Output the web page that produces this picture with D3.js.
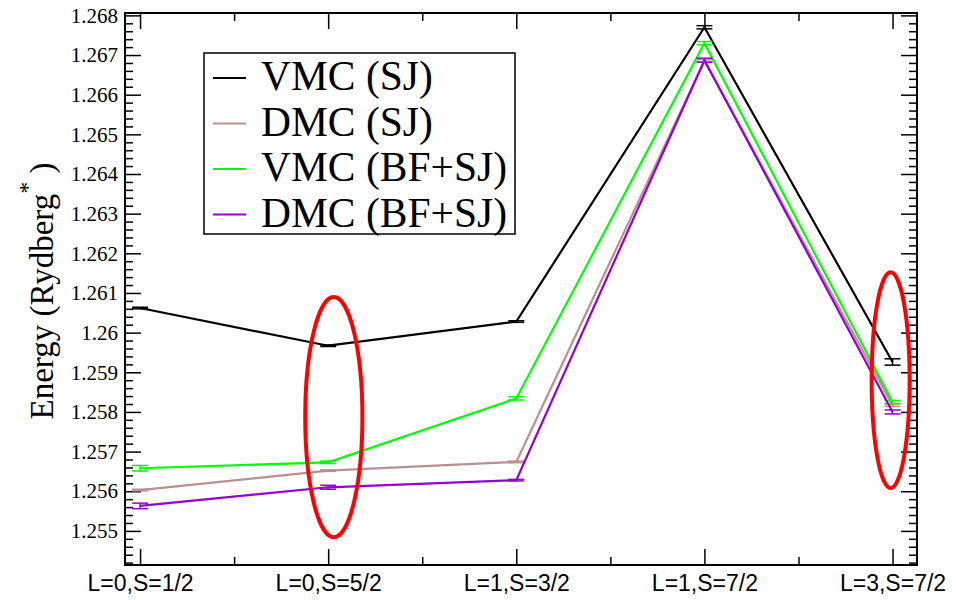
<!DOCTYPE html>
<html>
<head>
<meta charset="utf-8">
<script src="https://cdn.jsdelivr.net/npm/d3@7"></script>
<style>
  body { margin: 0; background: #fff; }
  svg { display: block; }
</style>
</head>
<body>
<svg width="956" height="600"></svg>
<script>
// data
const categories = ['L=0,S=1/2', 'L=0,S=5/2', 'L=1,S=3/2', 'L=1,S=7/2', 'L=3,S=7/2']
const vmcSJ = [1.26062, 1.25967, 1.26028, 1.26770, 1.25926]
const vmcSJErr = [0.00002, 0.00002, 0.00002, 0.00004, 0.00008]
const dmcSJ = [1.25603, 1.25652, 1.25674, 1.26685, 1.25817]
const dmcSJErr = [0.00002, 0.00002, 0.00002, 0.00003, 0.00003]
const vmcBF = [1.25658, 1.25673, 1.25834, 1.26730, 1.25825]
const vmcBFErr = [0.00007, 0.00003, 0.00004, 0.00004, 0.00004]
const dmcBF = [1.25563, 1.25610, 1.25628, 1.26687, 1.25800]
const dmcBFErr = [0.00007, 0.00005, 0.00002, 0.00005, 0.00005]
const yTicks = [1.255, 1.256, 1.257, 1.258, 1.259, 1.26, 1.261, 1.262, 1.263, 1.264, 1.265, 1.266, 1.267, 1.268]
const seriesNames = ['VMC (SJ)', 'DMC (SJ)', 'VMC (BF+SJ)', 'DMC (BF+SJ)']
const seriesColors = ['#000000', 'rgb(188,143,143)', 'rgb(0,255,0)', 'rgb(148,0,211)']
// circled points: category position, energy, half sizes
const marks = [
    { x: 1.03, y: 1.25787, rx: 0.152, ry: 0.00303 },
    { x: 3.99, y: 1.25880, rx: 0.101, ry: 0.00272 }
]

const series = [
    { values: vmcSJ, err: vmcSJErr },
    { values: dmcSJ, err: dmcSJErr },
    { values: vmcBF, err: vmcBFErr },
    { values: dmcBF, err: dmcBFErr }
]

//constants
const padL = 125, padR = 917, padT = 13, padB = 565
const serif = '"Liberation Serif", "Times New Roman", serif'
const sans = '"Liberation Sans", Arial, sans-serif'
const svg = d3.select('svg')

svg.append('rect').attr('width', 956).attr('height', 600).attr('fill', '#fff')

//scales
const x = d3.scaleLinear().domain([-0.08, 4.13]).range([padL, padR])
const y = d3.scaleLinear().domain([1.25414, 1.26806]).range([padB, padT])

const majorX = d3.range(categories.length)
const minorX = [0.5, 1.5, 2.5, 3.5]
const minorY = d3.range(1.2542, 1.2681, 0.0002).filter(v => !yTicks.some(t => Math.abs(t - v) < 1e-7))

function styleAxis(g) {
    g.select('.domain').remove()
    g.selectAll('.tick line').attr('stroke', '#000').attr('stroke-width', 1.5)
}

//axes (ticks point inward on all four sides)
svg.append('g')
    .attr('transform', 'translate(0,' + padB + ')')
    .call(d3.axisBottom(x).tickValues(majorX).tickSizeInner(-16).tickSizeOuter(0).tickPadding(10)
        .tickFormat(i => categories[i]))
    .call(styleAxis)
    .selectAll('text')
    .attr('fill', '#000')
    .style('font-family', sans)
    .style('font-size', '23px')
svg.append('g')
    .attr('transform', 'translate(0,' + padB + ')')
    .call(d3.axisBottom(x).tickValues(minorX).tickSizeInner(-8).tickSizeOuter(0).tickFormat(''))
    .call(styleAxis)
svg.append('g')
    .attr('transform', 'translate(0,' + padT + ')')
    .call(d3.axisTop(x).tickValues(majorX).tickSizeInner(-16).tickSizeOuter(0).tickFormat(''))
    .call(styleAxis)
svg.append('g')
    .attr('transform', 'translate(0,' + padT + ')')
    .call(d3.axisTop(x).tickValues(minorX).tickSizeInner(-8).tickSizeOuter(0).tickFormat(''))
    .call(styleAxis)

svg.append('g')
    .attr('transform', 'translate(' + padL + ',0)')
    .call(d3.axisLeft(y).tickValues(yTicks).tickSizeInner(-16).tickSizeOuter(0).tickPadding(7)
        .tickFormat(d => String(+d.toFixed(3))))
    .call(styleAxis)
    .selectAll('text')
    .attr('fill', '#000')
    .style('font-family', serif)
    .style('font-size', '21px')
svg.append('g')
    .attr('transform', 'translate(' + padL + ',0)')
    .call(d3.axisLeft(y).tickValues(minorY).tickSizeInner(-8).tickSizeOuter(0).tickFormat(''))
    .call(styleAxis)
svg.append('g')
    .attr('transform', 'translate(' + padR + ',0)')
    .call(d3.axisRight(y).tickValues(yTicks).tickSizeInner(-16).tickSizeOuter(0).tickFormat(''))
    .call(styleAxis)
svg.append('g')
    .attr('transform', 'translate(' + padR + ',0)')
    .call(d3.axisRight(y).tickValues(minorY).tickSizeInner(-8).tickSizeOuter(0).tickFormat(''))
    .call(styleAxis)

//lines and error bars
const line = d3.line().x((_, i) => x(i)).y(d => y(d))
series.forEach((s, k) => {
    const g = svg.append('g')
    g.append('path')
        .datum(s.values)
        .attr('d', line)
        .attr('fill', 'none')
        .attr('stroke', seriesColors[k])
        .attr('stroke-width', 2.2)
    const bars = g.selectAll('.err')
        .data(s.values.map((v, i) => ({ i, v, e: s.err[i] })))
        .enter()
        .append('g')
        .attr('stroke', seriesColors[k])
        .attr('stroke-width', 1.5)
    bars.append('line')
        .attr('x1', d => x(d.i)).attr('x2', d => x(d.i))
        .attr('y1', d => y(d.v - d.e)).attr('y2', d => y(d.v + d.e))
    bars.append('line')
        .attr('x1', d => x(d.i) - 8).attr('x2', d => x(d.i) + 8)
        .attr('y1', d => y(d.v - d.e)).attr('y2', d => y(d.v - d.e))
    bars.append('line')
        .attr('x1', d => x(d.i) - 8).attr('x2', d => x(d.i) + 8)
        .attr('y1', d => y(d.v + d.e)).attr('y2', d => y(d.v + d.e))
})

//red ellipses
svg.selectAll('.mark')
    .data(marks)
    .enter()
    .append('ellipse')
    .attr('cx', d => x(d.x))
    .attr('cy', d => y(d.y))
    .attr('rx', d => x(d.x + d.rx) - x(d.x))
    .attr('ry', d => y(d.y) - y(d.y + d.ry))
    .attr('fill', 'none')
    .attr('stroke', '#ff0000')
    .attr('stroke-width', 4)

//frame
svg.append('rect')
    .attr('x', padL).attr('y', padT)
    .attr('width', padR - padL).attr('height', padB - padT)
    .attr('fill', 'none')
    .attr('stroke', '#000')
    .attr('stroke-width', 2)

//legend
const legend = svg.append('g')
legend.append('rect')
    .attr('x', 204).attr('y', 53)
    .attr('width', 311).attr('height', 181)
    .attr('fill', '#fff')
    .attr('stroke', '#000')
    .attr('stroke-width', 1.5)
seriesNames.forEach((name, k) => {
    const base = 90 + k * 45.5
    legend.append('line')
        .attr('x1', 213).attr('x2', 246)
        .attr('y1', base - 12).attr('y2', base - 12)
        .attr('stroke', seriesColors[k])
        .attr('stroke-width', 2.2)
    legend.append('text')
        .attr('x', 261).attr('y', base)
        .style('font-family', serif)
        .style('font-size', '41.5px')
        .text(name)
})

//y label
const ylab = svg.append('text')
    .attr('transform', 'translate(53,291) rotate(-90)')
    .attr('text-anchor', 'middle')
    .style('font-family', serif)
    .style('font-size', '33px')
ylab.append('tspan').text('Energy (Rydberg')
ylab.append('tspan').attr('dy', -18).style('font-size', '24px').text('*')
ylab.append('tspan').attr('dy', 18).text(' )')
</script>
</body>
</html>
